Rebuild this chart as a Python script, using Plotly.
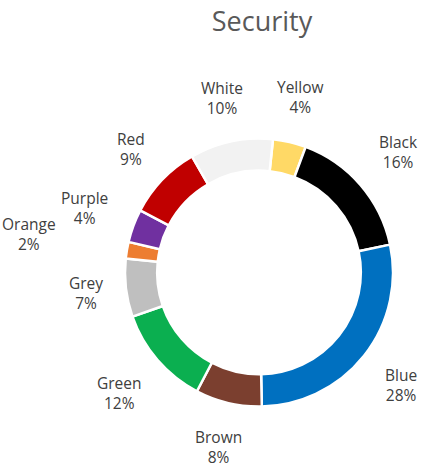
import math
import plotly.graph_objects as go

labels = ["Yellow", "Black", "Blue", "Brown", "Green", "Grey", "Orange", "Purple", "Red", "White"]
values = [4, 16, 28, 8, 12, 7, 2, 4, 9, 10]
colors = ["#FFD966", "#000000", "#0070C0", "#7B3F2F", "#0BAF50", "#BFBFBF", "#ED7D31", "#7030A0", "#C00000", "#F2F2F2"]

W, H = 428, 470
CX, CY, R = 259, 272.5, 134
ROT = 6
FONT = "Open Sans"
FS = 15.5

fig = go.Figure(go.Pie(
    labels=labels, values=values, sort=False, direction="clockwise",
    rotation=ROT, hole=0.76, textinfo="none", hoverinfo="label+percent",
    marker=dict(colors=colors, line=dict(color="white", width=2.5)),
    domain=dict(x=[(CX - R) / W, (CX + R) / W], y=[1 - (CY + R) / H, 1 - (CY - R) / H]),
    showlegend=False,
))

total = sum(values)
info = []
cum = 0
for i, (lab, v) in enumerate(zip(labels, values)):
    mid = ROT + (cum + v / 2) / total * 360
    cum += v
    info.append((i, lab, v, mid))

placed = {}
boxes = []
for i, lab, v, mid in sorted(info, key=lambda t: -t[2]):
    ux = math.sin(math.radians(mid))
    uy = -math.cos(math.radians(mid))
    pct = f"{round(v / total * 100)}%"
    hw = 8.9 * max(len(lab), len(pct)) / 2
    hh = 20.5
    r = 154 + hw * abs(ux) + hh * abs(uy)
    while True:
        px = CX + ux * r
        py = CY + uy * r
        box = (px - hw, py - hh, px + hw, py + hh)
        if not any(box[0] < b[2] + 2 and box[2] > b[0] - 2 and box[1] < b[3] + 1 and box[3] > b[1] - 1 for b in boxes):
            break
        r += 2
    boxes.append(box)
    placed[i] = (px, py, lab, pct)

annotations = []
for i in range(len(labels)):
    px, py, lab, pct = placed[i]
    annotations.append(dict(
        x=px / W, y=1 - py / H, xref="paper", yref="paper",
        text=f"{lab}<br>{pct}", showarrow=False, xanchor="center", yanchor="middle",
        font=dict(family=FONT, size=FS, color="#404040"), align="center",
    ))

fig.update_layout(
    width=W, height=H, margin=dict(l=0, r=0, t=0, b=0),
    paper_bgcolor="white", plot_bgcolor="white",
    title=dict(text="Security", x=(CX + 3) / W, xanchor="center", y=1 - 22 / H, yanchor="middle",
               yref="container", font=dict(family=FONT, size=27, color="#595959")),
    annotations=annotations,
)

fig.write_html("out.html")
